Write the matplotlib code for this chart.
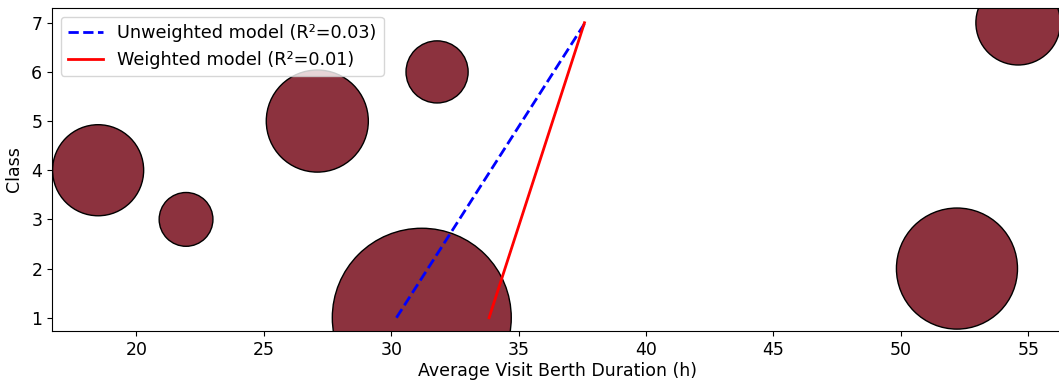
import numpy as np
import matplotlib
matplotlib.use("Agg")
import matplotlib.pyplot as plt

# Per-class summary: mean berth duration and number of visits
classes = np.array([1, 2, 3, 4, 5, 6, 7])
avg_duration = np.array([31.2, 52.2, 21.95, 18.5, 27.1, 31.8, 54.6])
visit_counts = np.array([166, 76, 15, 43, 54, 20, 37])
r2_labels = {"unweighted": "0.03", "weighted": "0.01"}

bubble_scale = 100.0
bubble_color = "#8C323E"

# Linear fits of duration as a function of class
unw_coef = np.polyfit(classes, avg_duration, 1)
w_coef = np.polyfit(classes, avg_duration, 1, w=np.sqrt(visit_counts))
y_line = np.array([classes.min(), classes.max()])

fig = plt.figure(figsize=(10.59, 3.80), dpi=100)
ax = fig.add_axes([52 / 1059, 49 / 380, 1012 / 1059, 323 / 380])

ax.scatter(avg_duration, classes, s=visit_counts * bubble_scale,
           color=bubble_color, edgecolor="black", linewidth=1, zorder=2)
ax.plot(np.polyval(unw_coef, y_line), y_line, "b--", lw=2, zorder=3,
        label=f"Unweighted model (R²={r2_labels['unweighted']})")
ax.plot(np.polyval(w_coef, y_line), y_line, "r-", lw=2, zorder=3,
        label=f"Weighted model (R²={r2_labels['weighted']})")

ax.set_xlim(16.69, 56.4)
ax.set_ylim(0.73, 7.3)
ax.set_xticks(np.arange(20, 56, 5))
ax.set_yticks(classes)
ax.tick_params(labelsize=12.5)
ax.set_xlabel("Average Visit Berth Duration (h)", fontsize=12.5, labelpad=2)
ax.set_ylabel("Class", fontsize=12.5, labelpad=6)
ax.legend(loc="upper left", fontsize=12.7)

fig.savefig("out.png", dpi=100)
